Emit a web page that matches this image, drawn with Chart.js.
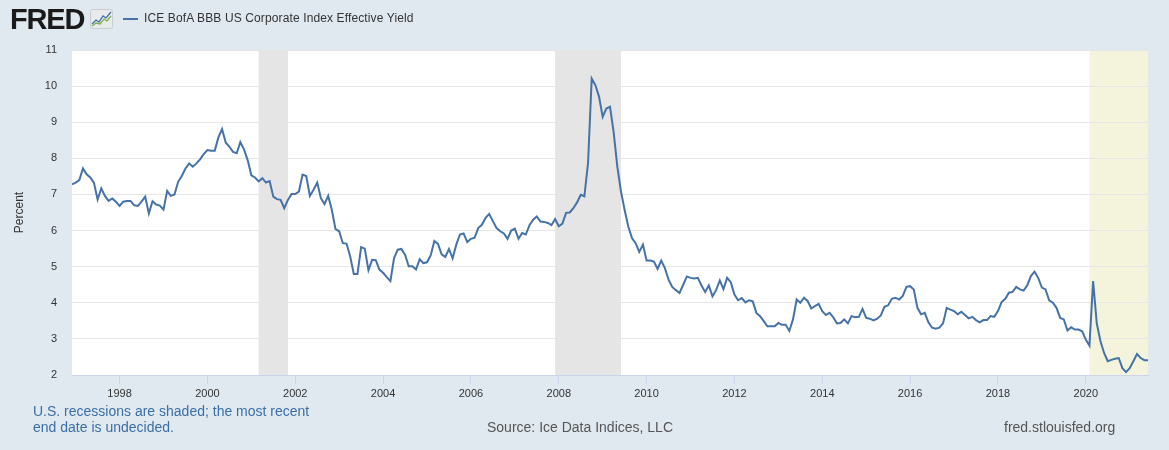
<!DOCTYPE html>
<html>
<head>
<meta charset="utf-8">
<script src="https://cdn.jsdelivr.net/npm/chart.js@4/dist/chart.umd.min.js"></script>
<style>
    html, body { margin: 0; padding: 0; background: #e1e9f0; }
    body { width: 1169px; height: 450px; position: relative; overflow: hidden; font-family: "Liberation Sans", Arial, sans-serif; }
    #chart { position: absolute; left: 0; top: 0; }
    .logo { position: absolute; left: 10px; top: 3px; font-size: 29px; font-weight: bold; color: #1a1a1a; letter-spacing: -1.2px; }
    .icon { position: absolute; left: 90px; top: 9px; }
    .legend-line { position: absolute; left: 123px; top: 18px; width: 15px; height: 2px; background: #4572a7; }
    .legend-text { position: absolute; left: 144px; top: 11px; font-size: 12px; color: #333; letter-spacing: 0.12px; }
    .note { position: absolute; left: 33px; top: 403px; font-size: 14px; line-height: 16px; color: #3a6ea5; }
    .source { position: absolute; left: 487px; top: 419px; font-size: 14px; color: #555; }
    .site { position: absolute; left: 1004px; top: 419px; font-size: 14px; color: #555; }
</style>
</head>
<body>
<canvas id="chart" width="1169" height="450"></canvas>
<div class="logo">FRED</div>
<svg class="icon" width="23" height="20" viewBox="0 0 23 20">
    <rect x="0.5" y="0.5" width="22" height="19" rx="2" fill="#e8eaec" stroke="#c9cdd1"/>
    <polyline points="2,15 6,11 9,13 13,7 16,9 21,3" fill="none" stroke="#4572a7" stroke-width="1.3"/>
    <polyline points="2,17 6,14 10,15 14,10 17,12 21,7" fill="none" stroke="#7fb24a" stroke-width="1.3"/>
</svg>
<div class="legend-line"></div>
<div class="legend-text">ICE BofA BBB US Corporate Index Effective Yield</div>
<div class="note">U.S. recessions are shaded; the most recent<br>end date is undecided.</div>
<div class="source">Source: Ice Data Indices, LLC</div>
<div class="site">fred.stlouisfed.org</div>

<script>
// Monthly series, first observation Dec 1996
const startYear = 1996;
const startMonth = 12;
const yieldValues = [
    7.28, 7.33, 7.40, 7.72, 7.56, 7.47, 7.32, 6.86, 7.17, 6.96, 6.82, 6.89, 6.80,
    6.68, 6.80, 6.82, 6.82, 6.70, 6.68, 6.80, 6.94, 6.47, 6.81, 6.72, 6.69, 6.58,
    7.10, 6.96, 7.00, 7.35, 7.51, 7.72, 7.86, 7.77, 7.86, 7.97, 8.12, 8.23, 8.21,
    8.21, 8.58, 8.81, 8.44, 8.32, 8.18, 8.14, 8.45, 8.25, 7.95, 7.53, 7.47, 7.36,
    7.45, 7.33, 7.37, 6.94, 6.87, 6.85, 6.62, 6.85, 7.01, 7.01, 7.08, 7.55, 7.51,
    6.96, 7.13, 7.33, 6.90, 6.73, 6.96, 6.57, 6.04, 5.98, 5.65, 5.64, 5.29, 4.80,
    4.80, 5.54, 5.50, 4.90, 5.19, 5.18, 4.92, 4.83, 4.71, 4.60, 5.24, 5.47, 5.49,
    5.33, 5.01, 5.01, 4.92, 5.21, 5.10, 5.12, 5.31, 5.71, 5.63, 5.34, 5.27, 5.49,
    5.23, 5.61, 5.89, 5.92, 5.68, 5.77, 5.80, 6.07, 6.16, 6.35, 6.46, 6.26, 6.07,
    5.98, 5.92, 5.77, 6.00, 6.05, 5.77, 5.93, 5.89, 6.15, 6.30, 6.39, 6.25, 6.24,
    6.21, 6.15, 6.32, 6.12, 6.19, 6.49, 6.50, 6.62, 6.78, 6.99, 6.95, 7.87, 10.21,
    10.03, 9.71, 9.15, 9.38, 9.43, 8.72, 7.77, 7.08, 6.57, 6.11, 5.79, 5.65, 5.41,
    5.61, 5.17, 5.17, 5.14, 4.94, 5.17, 4.96, 4.64, 4.44, 4.35, 4.27, 4.50, 4.73,
    4.69, 4.67, 4.69, 4.48, 4.30, 4.48, 4.18, 4.35, 4.62, 4.38, 4.69, 4.57, 4.23,
    4.07, 4.13, 4.01, 4.07, 4.04, 3.72, 3.63, 3.49, 3.35, 3.35, 3.35, 3.44, 3.39,
    3.39, 3.22, 3.54, 4.09, 4.00, 4.14, 4.05, 3.84, 3.91, 3.97, 3.77, 3.66, 3.72,
    3.60, 3.43, 3.44, 3.54, 3.43, 3.63, 3.60, 3.61, 3.83, 3.58, 3.56, 3.51, 3.56,
    3.65, 3.89, 3.93, 4.11, 4.14, 4.09, 4.19, 4.44, 4.46, 4.37, 3.86, 3.68, 3.72,
    3.46, 3.31, 3.28, 3.31, 3.43, 3.86, 3.81, 3.77, 3.68, 3.75, 3.66, 3.57, 3.61,
    3.52, 3.46, 3.52, 3.52, 3.63, 3.61, 3.77, 4.02, 4.11, 4.28, 4.30, 4.44, 4.37,
    4.34, 4.48, 4.74, 4.86, 4.69, 4.42, 4.37, 4.07, 4.00, 3.86, 3.58, 3.54, 3.23,
    3.32, 3.26, 3.26, 3.21, 2.98, 2.81, 4.60, 3.43, 2.94, 2.61, 2.38, 2.42, 2.45,
    2.47, 2.19, 2.08, 2.19, 2.38, 2.58, 2.47, 2.41, 2.41
];
const yearTicks = [1998, 2000, 2002, 2004, 2006, 2008, 2010, 2012, 2014, 2016, 2018, 2020];
const yTicks = [2, 3, 4, 5, 6, 7, 8, 9, 10, 11];
// recession spans as [year, month] pairs
const recessionStarts = [[2001, 3], [2007, 12]];
const recessionEnds = [[2001, 11], [2009, 6]];
const openRecessionStart = [2020, 2];

function toYear(y, m) { return y + (m - 1) / 12; }

const xMin = toYear(startYear, startMonth);
const points = yieldValues.map((v, i) => ({ x: xMin + i / 12, y: v }));
const xMax = points[points.length - 1].x;

const shading = {
    id: 'shading',
    beforeDraw(chart) {
        const { ctx, chartArea: a, scales } = chart;
        ctx.save();
        ctx.fillStyle = '#ffffff';
        ctx.fillRect(a.left, a.top, a.right - a.left, a.bottom - a.top);
        const x0 = scales.x.getPixelForValue(toYear(...openRecessionStart));
        ctx.fillStyle = '#f4f4dc';
        ctx.fillRect(x0, a.top, a.right - x0, a.bottom - a.top);
        ctx.restore();
    },
    beforeDatasetsDraw(chart) {
        const { ctx, chartArea: a, scales } = chart;
        ctx.save();
        ctx.fillStyle = '#e5e5e5';
        recessionStarts.forEach((s, k) => {
            const x0 = scales.x.getPixelForValue(toYear(...s));
            const x1 = scales.x.getPixelForValue(toYear(...recessionEnds[k]));
            ctx.fillRect(x0, a.top, x1 - x0, a.bottom - a.top);
        });
        ctx.restore();
    }
};

new Chart(document.getElementById('chart'), {
    type: 'line',
    data: {
        datasets: [{
            label: 'ICE BofA BBB US Corporate Index Effective Yield',
            data: points,
            borderColor: '#4572a7',
            borderWidth: 2,
            pointRadius: 0,
            tension: 0,
            fill: false
        }]
    },
    options: {
        responsive: false,
        animation: false,
        layout: { padding: { left: 0, top: 50, right: 21, bottom: 0 } },
        plugins: { legend: { display: false }, tooltip: { enabled: false } },
        scales: {
            x: {
                type: 'linear',
                min: xMin,
                max: xMax,
                afterFit: s => { s.height = 75; },
                afterBuildTicks: s => { s.ticks = yearTicks.map(v => ({ value: v })); },
                grid: { display: true, drawOnChartArea: false, drawTicks: true, tickLength: 9, color: '#ccd6eb' },
                border: { display: true, color: '#ccd6eb', width: 1 },
                ticks: {
                    padding: 3,
                    maxRotation: 0,
                    autoSkip: false,
                    color: '#333',
                    font: { family: '"Liberation Sans", Arial, sans-serif', size: 11 },
                    callback: v => String(v)
                }
            },
            y: {
                min: 2,
                max: 11,
                afterFit: s => { s.width = 72; },
                afterBuildTicks: s => { s.ticks = yTicks.map(v => ({ value: v })); },
                grid: { color: '#e6e6e6', drawTicks: false },
                border: { display: false },
                ticks: {
                    padding: 15,
                    color: '#333',
                    font: { family: '"Liberation Sans", Arial, sans-serif', size: 11 },
                    callback: v => String(v)
                },
                title: {
                    display: true,
                    text: 'Percent',
                    color: '#333',
                    padding: { top: 12, bottom: 0 },
                    font: { family: '"Liberation Sans", Arial, sans-serif', size: 12 }
                }
            }
        }
    },
    plugins: [shading]
});
</script>
</body>
</html>
